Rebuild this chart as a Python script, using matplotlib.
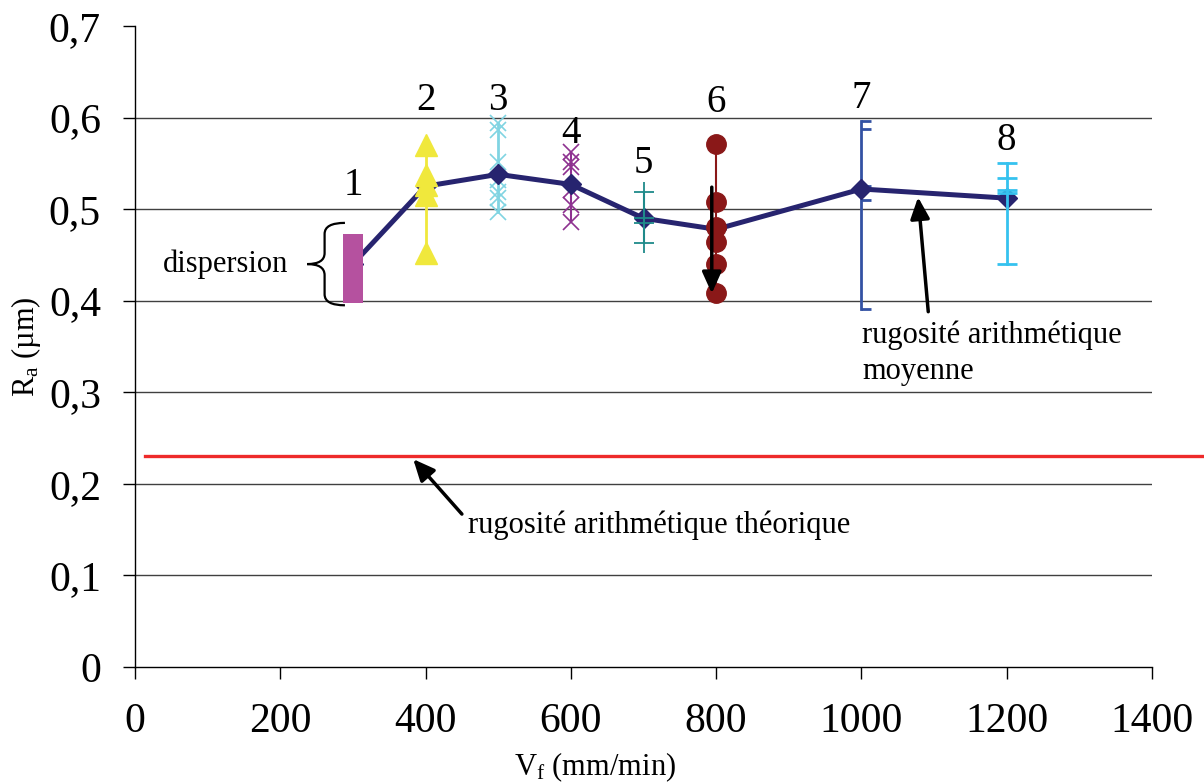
import matplotlib
matplotlib.use("Agg")
import matplotlib.pyplot as plt
from matplotlib.path import Path
from matplotlib.patches import PathPatch

plt.rcParams["font.family"] = ["Liberation Serif", "DejaVu Serif"]
plt.rcParams["mathtext.fontset"] = "custom"
plt.rcParams["mathtext.rm"] = "Liberation Serif"
plt.rcParams["mathtext.it"] = "Liberation Serif:italic"

# feed rate Vf (mm/min) and mean roughness Ra (um)
vf = [300, 400, 500, 600, 700, 800, 1000, 1200]
ra_mean = [0.44, 0.525, 0.538, 0.527, 0.490, 0.478, 0.522, 0.512]
ra_theory = 0.23

# individual measurements at each feed rate
ra_1 = [0.397, 0.415, 0.435, 0.455, 0.473]
ra_2 = [0.570, 0.537, 0.526, 0.515, 0.452]
ra_3 = [0.594, 0.586, 0.551, 0.532, 0.519, 0.512, 0.497]
ra_4 = [0.562, 0.551, 0.546, 0.521, 0.504, 0.486]
ra_5 = [0.519, 0.490, 0.485, 0.463]
ra_6 = [0.571, 0.508, 0.481, 0.464, 0.440, 0.408]
ra_7 = [0.596, 0.587, 0.525, 0.510, 0.391]
ra_8 = [0.550, 0.534, 0.521, 0.518, 0.440]

point_labels = ["1", "2", "3", "4", "5", "6", "7", "8"]
label_y = [0.526, 0.619, 0.619, 0.583, 0.550, 0.616, 0.621, 0.575]

fig = plt.figure(figsize=(12.04, 7.83), dpi=100)
ax = fig.add_axes([135 / 1204, 1 - 667 / 783, 1017 / 1204, 641 / 783])

ax.set_xlim(0, 1400)
ax.set_ylim(0, 0.7)
ax.set_xticks(range(0, 1401, 200))
ax.set_yticks([i / 10 for i in range(8)])
ax.set_yticklabels([f"{i / 10:g}".replace(".", ",") for i in range(8)])
ax.tick_params(axis="both", direction="out", length=8.5, width=1,
               labelsize=30, color="black")
ax.tick_params(axis="x", pad=17)
ax.tick_params(axis="y", pad=16)
for side in ["top", "right"]:
    ax.spines[side].set_visible(False)
for side in ["left", "bottom"]:
    ax.spines[side].set_linewidth(1)

# gridlines (none at the top)
for g in [0.1, 0.2, 0.3, 0.4, 0.5, 0.6]:
    ax.axhline(g, color="#404040", lw=1, zorder=0)

# theoretical roughness line, running past the plot area
ax.axhline(ra_theory, xmin=0.01, xmax=1.052, color="#ee2a2a", lw=2.4,
           clip_on=False, zorder=2)

# mean line
ax.plot(vf, ra_mean, color="#27246f", lw=3.6, marker="D", ms=10,
        zorder=4)

# point 1: dense cluster, drawn as a bar
ax.bar(vf[0], max(ra_1) - min(ra_1), bottom=min(ra_1), width=27,
       color="#b5519f", zorder=5)

# point 2: yellow triangles
ax.plot([vf[1]] * len(ra_2), ra_2, color="#f0e83c", lw=2, marker="^",
        ms=16, zorder=5)
# point 3: light cyan crosses
ax.plot([vf[2]] * len(ra_3), ra_3, color="#80d4e2", lw=2, marker="x",
        ms=12, mew=1.2, zorder=3)
# point 4: purple crosses
ax.plot([vf[3]] * len(ra_4), ra_4, color="#8e3190", lw=1.5, marker="x",
        ms=11, mew=1.2, zorder=3)
# point 5: teal plus
ax.plot([vf[4]] * len(ra_5), ra_5, color="#1f8a8a", lw=1.5, marker="+",
        ms=14, mew=1.3, zorder=5)
# point 6: dark red circles
ax.plot([vf[5]] * len(ra_6), ra_6, color="#8a1818", lw=1.5, marker="o",
        ms=14, zorder=5)
# point 7: blue line with right-side caps
cap_right = Path([(0, 0), (1, 0)], [Path.MOVETO, Path.LINETO])
ax.plot([vf[6]] * len(ra_7), ra_7, color="#3352a3", lw=2, marker=cap_right,
        ms=14.5, mew=2, mec="#3352a3", zorder=3)
# point 8: cyan caps
ax.plot([vf[7]] * len(ra_8), ra_8, color="#35c2ef", lw=2, marker="_",
        ms=15, mew=2, zorder=5)

for x, lab, y in zip(vf, point_labels, label_y):
    ax.text(x, y, lab, fontsize=28, ha="center", va="center")

# brace around the dispersion of point 1
ytop = max(ra_1) + 0.012
ybot = min(ra_1) - 0.002
ym = (ytop + ybot) / 2
r = 0.012
xe, xs, xt = vf[0] - 11, vf[0] - 39, vf[0] - 63
verts = [(xe, ytop), (xs, ytop), (xs, ytop - r),
         (xs, ym + r), (xs, ym), (xt, ym),
         (xs, ym), (xs, ym - r),
         (xs, ybot + r), (xs, ybot), (xe, ybot)]
codes = [Path.MOVETO, Path.CURVE3, Path.CURVE3, Path.LINETO, Path.CURVE3,
         Path.CURVE3, Path.CURVE3, Path.CURVE3, Path.LINETO, Path.CURVE3,
         Path.CURVE3]
ax.add_patch(PathPatch(Path(verts, codes), fill=False, lw=1.6,
                       color="black", zorder=6))
ax.text(38, ym, "dispersion", fontsize=22, ha="left", va="center")

arrow = dict(arrowstyle="-|>,head_length=1.0,head_width=0.45",
             mutation_scale=13, lw=2.5, color="black",
             shrinkA=0, shrinkB=0)
ax.annotate("", xy=(vf[5] - 6, min(ra_6)), xytext=(vf[5] - 6, 0.524),
            arrowprops=arrow, zorder=7)
ax.annotate("", xy=(1078, 0.513), xytext=(1092, 0.388), arrowprops=arrow)
ax.annotate("", xy=(383, ra_theory - 0.003), xytext=(450, 0.167),
            arrowprops=arrow)

ax.text(1001, 0.378, "rugosité arithmétique\nmoyenne", fontsize=22,
        ha="left", va="top", linespacing=1.3)
ax.text(458, 0.155, "rugosité arithmétique théorique", fontsize=22,
        ha="left", va="center")

ax.set_xlabel(r"V$_\mathrm{f}$ (mm/min)", fontsize=22, va="top")
ax.set_ylabel(r"R$_\mathrm{a}$ (µm)", fontsize=22)
ax.xaxis.set_label_coords(0.452, -0.13)
ax.yaxis.set_label_coords(-0.09, 0.5)

fig.savefig("out.png", dpi=100)
